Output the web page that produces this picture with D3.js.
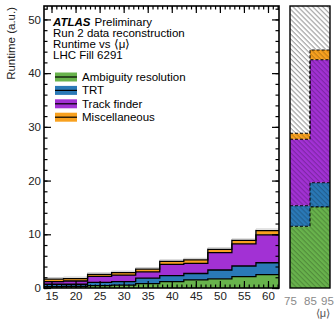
<!DOCTYPE html>
<html>
<head>
<meta charset="utf-8">
<script src="https://cdn.jsdelivr.net/npm/d3@7"></script>
<style>
body { margin: 0; background: #fff; }
text { font-family: "Liberation Sans", Arial, sans-serif; }
</style>
</head>
<body>
<script>
const w = 335;
const h = 321;

// main panel: <mu> bins (low edges, width 5)
const muBins = [12.5, 17.5, 22.5, 27.5, 32.5, 37.5, 42.5, 47.5, 52.5, 57.5];
const ambiguity   = [0.25, 0.3, 0.45, 0.55, 0.8, 1.2, 1.5, 1.7, 2.1, 2.5];
const trt         = [0.45, 0.4, 0.6, 0.65, 1.05, 1.1, 1.2, 1.65, 2.0, 2.2];
const trackFinder = [0.5, 0.6, 1.1, 1.2, 1.15, 2.1, 1.9, 3.25, 4.1, 5.2];
const misc        = [0.45, 0.45, 0.4, 0.45, 0.5, 0.55, 0.65, 0.6, 0.65, 0.8];

// right panel: extrapolated bins (low edges, width 10)
const muBinsExtra = [75, 85];
const ambiguityExtra   = [11.5, 15.1];
const trtExtra         = [3.8, 4.5];
const trackFinderExtra = [12.4, 22.9];
const miscExtra        = [1.1, 1.8];
const restExtra        = [30, 30];   // hatched, runs off the top

const seriesNames = ["Ambiguity resolution", "TRT", "Track finder", "Miscellaneous"];
const colors = ["#68b34c", "#2a79b7", "#a231d4", "#f8a11f"];
const xTicks = [15, 20, 25, 30, 35, 40, 45, 50, 55, 60];
const xTicksExtra = [75, 85, 95];
const yTicks = [0, 10, 20, 30, 40, 50];
const labelLines = ["Run 2 data reconstruction", "Runtime vs \u27E8\u03BC\u27E9", "LHC Fill 6291"];

const plotTop = 6, plotBottom = 288;
const mainL = 44, mainR = 279;
const exL = 290, exR = 330;

const yScale = d3.scaleLinear().domain([0, 52.5]).range([plotBottom, plotTop]);
const xScale = d3.scaleLinear().domain([13.44, 62.29]).range([mainL, mainR]);
const xScaleEx = d3.scaleLinear().domain([75, 95]).range([exL, exR]);

const svg = d3.select("body").append("svg")
  .attr("width", w).attr("height", h);

const defs = svg.append("defs");
defs.append("clipPath").attr("id", "clipMain")
  .append("rect").attr("x", mainL).attr("y", plotTop)
  .attr("width", mainR - mainL).attr("height", plotBottom - plotTop);
defs.append("clipPath").attr("id", "clipEx")
  .append("rect").attr("x", exL).attr("y", plotTop)
  .attr("width", exR - exL).attr("height", plotBottom - plotTop);

// hatch patterns for the extrapolated panel
function hatch(id, bg, line) {
  const p = defs.append("pattern").attr("id", id)
    .attr("patternUnits", "userSpaceOnUse")
    .attr("width", 3.5).attr("height", 3.5)
    .attr("patternTransform", "rotate(45)");
  p.append("rect").attr("width", 3.5).attr("height", 3.5).attr("fill", bg);
  p.append("line").attr("x1", 0).attr("y1", 0.6).attr("x2", 3.5).attr("y2", 0.6)
    .attr("stroke", line).attr("stroke-width", 1.1);
}
colors.forEach((c, i) => hatch("hatch" + i, c, d3.color(c).darker(0.7)));
hatch("hatchGray", "#fff", "#9a9a9a");

function stackTops(bins, lists) {
  let acc = bins.map(() => 0);
  return lists.map(vals => {
    const lo = acc.slice();
    acc = acc.map((a, i) => a + vals[i]);
    return bins.map((b, i) => ({ b: b, y0: lo[i], y1: acc[i] }));
  });
}

function stepPts(layer, width) {
  const pts = layer.slice();
  const last = layer[layer.length - 1];
  pts.push({ b: last.b + width, y0: last.y0, y1: last.y1 });
  return pts;
}

// main panel
const layers = stackTops(muBins, [ambiguity, trt, trackFinder, misc]);
const gMain = svg.append("g").attr("clip-path", "url(#clipMain)");
const area = d3.area().curve(d3.curveStepAfter)
  .x(d => xScale(d.b)).y0(d => yScale(d.y0)).y1(d => yScale(d.y1));
const line = d3.line().curve(d3.curveStepAfter)
  .x(d => xScale(d.b)).y(d => yScale(d.y1));

layers.forEach((layer, i) => {
  gMain.append("path").attr("d", area(stepPts(layer, 5))).attr("fill", colors[i]);
});
gMain.append("path")
  .attr("d", d3.line().curve(d3.curveStepAfter).x(d => xScale(d.b)).y(d => yScale(d.y1) - 1.5)(stepPts(layers[3], 5)))
  .attr("fill", "none").attr("stroke", "#c8c8c8").attr("stroke-width", 1);
layers.forEach((layer, i) => {
  gMain.append("path").attr("d", line(stepPts(layer, 5)))
    .attr("fill", "none").attr("stroke", "#000").attr("stroke-width", 1.3);
});

// extrapolated panel
const layersEx = stackTops(muBinsExtra,
  [ambiguityExtra, trtExtra, trackFinderExtra, miscExtra, restExtra]);
const gEx = svg.append("g").attr("clip-path", "url(#clipEx)");
const areaEx = d3.area().curve(d3.curveStepAfter)
  .x(d => xScaleEx(d.b)).y0(d => yScale(d.y0)).y1(d => yScale(d.y1));
const lineEx = d3.line().curve(d3.curveStepAfter)
  .x(d => xScaleEx(d.b)).y(d => yScale(d.y1));
layersEx.forEach((layer, i) => {
  gEx.append("path").attr("d", areaEx(stepPts(layer, 10)))
    .attr("fill", i < 4 ? "url(#hatch" + i + ")" : "url(#hatchGray)");
});
layersEx.slice(0, 4).forEach(layer => {
  gEx.append("path").attr("d", lineEx(stepPts(layer, 10)))
    .attr("fill", "none").attr("stroke", "#000")
    .attr("stroke-width", 1.1).attr("stroke-dasharray", "3,2");
});

// axes of main panel (ticks inward)
function noDomain(g) { g.select(".domain").remove(); }

svg.append("g").attr("transform", "translate(0," + plotBottom + ")")
  .call(d3.axisBottom(xScale).tickValues(d3.range(14, 63)).tickSize(-3.5).tickFormat(""))
  .call(noDomain);
const xAxis = svg.append("g").attr("transform", "translate(0," + plotBottom + ")")
  .call(d3.axisBottom(xScale).tickValues(xTicks).tickSize(-7).tickPadding(5))
  .call(noDomain);
xAxis.selectAll("text").attr("y", 4).attr("font-size", 11.5).attr("fill", "#222");

svg.append("g").attr("transform", "translate(0," + plotTop + ")")
  .call(d3.axisTop(xScale).tickValues(d3.range(14, 63)).tickSize(-3.5).tickFormat(""))
  .call(noDomain);
svg.append("g").attr("transform", "translate(0," + plotTop + ")")
  .call(d3.axisTop(xScale).tickValues(xTicks).tickSize(-7).tickFormat(""))
  .call(noDomain);

svg.append("g").attr("transform", "translate(" + mainL + ",0)")
  .call(d3.axisLeft(yScale).tickValues(d3.range(0, 53, 2)).tickSize(-3.5).tickFormat(""))
  .call(noDomain);
const yAxis = svg.append("g").attr("transform", "translate(" + mainL + ",0)")
  .call(d3.axisLeft(yScale).tickValues(yTicks).tickSize(-7).tickPadding(3))
  .call(noDomain);
yAxis.selectAll("text").attr("font-size", 11.5).attr("fill", "#222");

svg.append("g").attr("transform", "translate(" + mainR + ",0)")
  .call(d3.axisRight(yScale).tickValues(d3.range(0, 53, 2)).tickSize(-3.5).tickFormat(""))
  .call(noDomain);
svg.append("g").attr("transform", "translate(" + mainR + ",0)")
  .call(d3.axisRight(yScale).tickValues(yTicks).tickSize(-7).tickFormat(""))
  .call(noDomain);

svg.selectAll(".tick line").attr("stroke", "#000").attr("stroke-width", 1.2);

// extrapolated panel axis labels (no ticks)
const xAxisEx = svg.append("g").attr("transform", "translate(0," + plotBottom + ")")
  .call(d3.axisBottom(xScaleEx).tickValues(xTicksExtra).tickSize(0).tickPadding(9))
  .call(noDomain);
xAxisEx.selectAll("text").attr("font-size", 11.5).attr("fill", "#8a8a8a");
xAxisEx.selectAll("text").filter(d => d === 95).attr("dx", -3);

// frames
svg.append("rect").attr("x", mainL).attr("y", plotTop)
  .attr("width", mainR - mainL).attr("height", plotBottom - plotTop)
  .attr("fill", "none").attr("stroke", "#000").attr("stroke-width", 1.6);
svg.append("rect").attr("x", exL).attr("y", plotTop)
  .attr("width", exR - exL).attr("height", plotBottom - plotTop)
  .attr("fill", "none").attr("stroke", "#000").attr("stroke-width", 1.4);

// axis titles
svg.append("text")
  .attr("transform", "translate(15," + (plotTop + 1) + ") rotate(-90)")
  .attr("text-anchor", "end").attr("font-size", 11.5).attr("fill", "#222")
  .text("Runtime (a.u.)");
svg.append("text").attr("x", 330).attr("y", 317)
  .attr("text-anchor", "end").attr("font-size", 11).attr("fill", "#555")
  .text("\u27E8\u03BC\u27E9");

// ATLAS label
const lbl = svg.append("text").attr("x", 53).attr("y", 26)
  .attr("font-size", 11.5).attr("fill", "#000");
lbl.append("tspan").attr("font-weight", "bold").attr("font-style", "italic").text("ATLAS");
lbl.append("tspan").attr("dx", 4).text("Preliminary");
svg.selectAll(".infoLine").data(labelLines).enter().append("text")
  .attr("x", 53).attr("y", (d, i) => 37 + i * 11)
  .attr("font-size", 11.5).attr("fill", "#000").text(d => d);

// legend
const leg = svg.selectAll(".leg").data(seriesNames).enter().append("g")
  .attr("transform", (d, i) => "translate(55," + (77 + i * 13.4) + ")");
leg.append("rect").attr("x", 0).attr("y", -4.5).attr("width", 22).attr("height", 9)
  .attr("fill", (d, i) => colors[i]);
leg.append("line").attr("x1", 0).attr("x2", 22).attr("y1", 0).attr("y2", 0)
  .attr("stroke", "#000").attr("stroke-width", 1.2);
leg.append("text").attr("x", 27).attr("y", 4).attr("font-size", 11.5)
  .attr("fill", "#000").text(d => d);
</script>
</body>
</html>
